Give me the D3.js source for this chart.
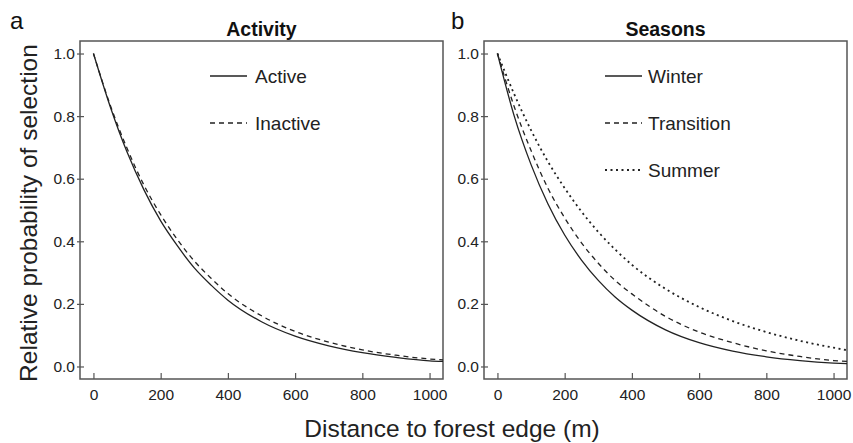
<!DOCTYPE html>
<html>
<head>
<meta charset="utf-8">
<script src="https://cdn.jsdelivr.net/npm/d3@7"></script>
<style>
  body { margin: 0; background: #fff; }
  svg { font-family: "Liberation Sans", Arial, sans-serif; }
</style>
</head>
<body>
<div id="chart"></div>
<script>
// distance to forest edge (m)
var distance = [0, 50, 100, 150, 200, 250, 300, 350, 400, 500, 600, 700, 800, 900, 1000, 1040];

// panel a - activity
var active   = [1, 0.83, 0.685, 0.565, 0.465, 0.385, 0.315, 0.26, 0.212, 0.143, 0.097, 0.066, 0.044, 0.029, 0.018, 0.016];
var inactive = [1, 0.835, 0.697, 0.58, 0.485, 0.405, 0.337, 0.282, 0.233, 0.162, 0.112, 0.078, 0.053, 0.036, 0.024, 0.021];

// panel b - seasons
var winter     = [1, 0.80, 0.645, 0.52, 0.42, 0.34, 0.275, 0.222, 0.18, 0.117, 0.076, 0.049, 0.031, 0.019, 0.011, 0.009];
var transition = [1, 0.83, 0.69, 0.57, 0.475, 0.395, 0.33, 0.275, 0.232, 0.16, 0.11, 0.076, 0.05, 0.032, 0.019, 0.016];
var summer     = [1, 0.87, 0.755, 0.655, 0.57, 0.495, 0.43, 0.374, 0.325, 0.248, 0.19, 0.145, 0.11, 0.082, 0.06, 0.052];

var xTicks = [0, 200, 400, 600, 800, 1000];
var yTicks = [0, 0.2, 0.4, 0.6, 0.8, 1.0];

var svgWidth = 853;
var svgHeight = 443;
var plotTop = 41, plotBottom = 379;
var ink = "#222";
var frame = "#555";

var svg = d3.select("#chart")
    .append("svg")
    .attr("width", svgWidth)
    .attr("height", svgHeight);

var line = function(xScale, yScale) {
    return d3.line()
        .x(d => xScale(d[0]))
        .y(d => yScale(d[1]))
        .curve(d3.curveMonotoneX);
};

function drawPanel(cfg) {
    var xScale = d3.scaleLinear().domain([-40, 1040]).range([cfg.left, cfg.right]);
    var yScale = d3.scaleLinear().domain([-0.04, 1.04]).range([plotBottom, plotTop]);

    // clip so the curves stop at the frame
    svg.append("clipPath").attr("id", cfg.id)
        .append("rect")
        .attr("x", cfg.left).attr("y", plotTop)
        .attr("width", cfg.right - cfg.left).attr("height", plotBottom - plotTop);

    // x axis, ticks pointing in
    var xg = svg.append("g")
        .attr("transform", `translate(0, ${plotBottom})`)
        .call(d3.axisBottom(xScale).tickValues(xTicks).tickFormat(d3.format("d"))
            .tickSizeOuter(0).tickSize(-6).tickPadding(10));

    // y axis
    var yg = svg.append("g")
        .attr("transform", `translate(${cfg.left}, 0)`)
        .call(d3.axisLeft(yScale).tickValues(yTicks).tickFormat(d3.format(".1f"))
            .tickSizeOuter(0).tickSize(-4).tickPadding(5));
    yg.selectAll(".tick line").attr("x1", -3);

    [xg, yg].forEach(g => {
        g.attr("font-family", null).attr("font-size", null);
        g.select(".domain").remove();
        g.selectAll(".tick line").attr("stroke", frame).attr("stroke-width", 1.2);
        g.selectAll("text").style("font-size", "15.5px").attr("fill", ink);
    });

    // box
    svg.append("rect")
        .attr("x", cfg.left).attr("y", plotTop)
        .attr("width", cfg.right - cfg.left).attr("height", plotBottom - plotTop)
        .attr("fill", "none").attr("stroke", frame).attr("stroke-width", 1.5);

    // curves
    cfg.series.forEach(s => {
        svg.append("path")
            .datum(distance.map((d, i) => [d, s.values[i]]))
            .attr("clip-path", `url(#${cfg.id})`)
            .attr("d", line(xScale, yScale))
            .attr("fill", "none")
            .attr("stroke", ink)
            .attr("stroke-width", s.width)
            .attr("stroke-dasharray", s.dash);
    });

    // legend
    cfg.series.forEach((s, i) => {
        var ly = 76 + i * 47;
        svg.append("line")
            .attr("x1", cfg.legendX).attr("x2", cfg.legendX + 37)
            .attr("y1", ly).attr("y2", ly)
            .attr("stroke", ink).attr("stroke-width", s.width)
            .attr("stroke-dasharray", s.dash);
        svg.append("text")
            .attr("x", cfg.legendX + cfg.legendGap)
            .attr("y", ly + 7)
            .style("font-size", "19px")
            .attr("fill", ink)
            .text(s.name);
    });

    // title and panel letter
    svg.append("text")
        .attr("x", (cfg.left + cfg.right) / 2)
        .attr("y", 36)
        .attr("text-anchor", "middle")
        .style("font-size", "19.5px")
        .style("font-weight", "bold")
        .attr("fill", "#111")
        .text(cfg.title);

    svg.append("text")
        .attr("x", cfg.letterX)
        .attr("y", 29)
        .style("font-size", "24px")
        .attr("fill", "#111")
        .text(cfg.letter);
}

drawPanel({
    id: "clipA", left: 80, right: 443, title: "Activity", letter: "a", letterX: 10,
    legendX: 210, legendGap: 45,
    series: [
        {name: "Active", values: active, dash: null, width: 1.3},
        {name: "Inactive", values: inactive, dash: "5,4", width: 1.3}
    ]
});

drawPanel({
    id: "clipB", left: 484, right: 847, title: "Seasons", letter: "b", letterX: 451,
    legendX: 605, legendGap: 43,
    series: [
        {name: "Winter", values: winter, dash: null, width: 1.3},
        {name: "Transition", values: transition, dash: "5,4", width: 1.3},
        {name: "Summer", values: summer, dash: "2,3.5", width: 1.8}
    ]
});

// shared axis titles
svg.append("text")
    .attr("transform", "translate(37, 213) rotate(-90)")
    .attr("text-anchor", "middle")
    .style("font-size", "24.5px")
    .attr("fill", ink)
    .text("Relative probability of selection");

svg.append("text")
    .attr("x", 452)
    .attr("y", 437)
    .attr("text-anchor", "middle")
    .style("font-size", "24.5px")
    .attr("fill", ink)
    .text("Distance to forest edge (m)");
</script>
</body>
</html>
